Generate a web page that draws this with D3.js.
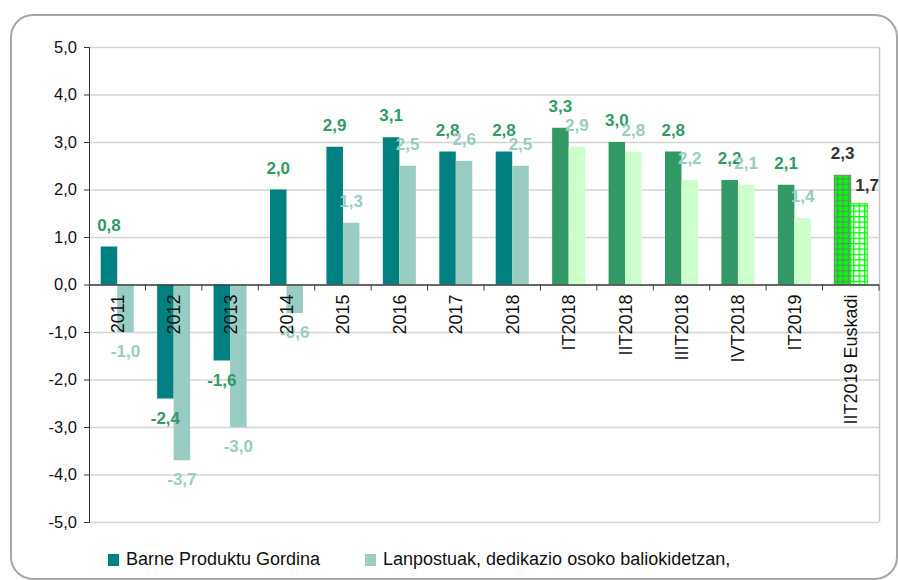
<!DOCTYPE html>
<html>
<head>
<meta charset="utf-8">
<script src="https://cdn.jsdelivr.net/npm/d3@7"></script>
<style>
  body { margin: 0; background: #fff; }
  svg { font-family: Arial, "Liberation Sans", sans-serif; }
  .grid line { stroke: #d4d4d4; }
  .lbl { font-weight: bold; font-size: 17px; text-anchor: middle; }
</style>
</head>
<body>
<svg id="chart" width="898" height="580"></svg>
<script>
var categories = ["2011", "2012", "2013", "2014", "2015", "2016", "2017", "2018",
                  "IT2018", "IIT2018", "IIIT2018", "IVT2018", "IT2019", "IIT2019 Euskadi"];
var periodType = ["year", "year", "year", "year", "year", "year", "year", "year",
                  "quarter", "quarter", "quarter", "quarter", "quarter", "euskadi"];
var gdpValues = [0.8, -2.4, -1.6, 2.0, 2.9, 3.1, 2.8, 2.8, 3.3, 3.0, 2.8, 2.2, 2.1, 2.3];
var jobValues = [-1.0, -3.7, -3.0, -0.6, 1.3, 2.5, 2.6, 2.5, 2.9, 2.8, 2.2, 2.1, 1.4, 1.7];
var yTicks = [-5, -4, -3, -2, -1, 0, 1, 2, 3, 4, 5];
var seriesNames = ["Barne Produktu Gordina", "Lanpostuak, dedikazio osoko baliokidetzan,"];

var svg = d3.select("#chart");

// colours per period type: [gdp bar, job bar]
var fills = {
    year: ["#008080", "#99ccc2"],
    quarter: ["#339966", "#ccffcc"],
    euskadi: ["url(#gridDark)", "url(#gridLight)"]
};
var labelColors = {
    year: ["#339966", "#99ccc2"],
    quarter: ["#339966", "#99ccc2"],
    euskadi: ["#333333", "#333333"]
};

var defs = svg.append("defs");
var p1 = defs.append("pattern").attr("id", "gridDark")
    .attr("width", 5.4).attr("height", 5.4).attr("patternUnits", "userSpaceOnUse");
p1.append("rect").attr("width", 5.4).attr("height", 5.4).attr("fill", "#00ff00");
p1.append("path").attr("d", "M0,0.6H5.4M0.6,0V5.4")
    .attr("stroke", "#5f8f6f").attr("stroke-width", 1.3);
var p2 = defs.append("pattern").attr("id", "gridLight")
    .attr("width", 5.4).attr("height", 5.4).attr("patternUnits", "userSpaceOnUse");
p2.append("rect").attr("width", 5.4).attr("height", 5.4).attr("fill", "#ffffff");
p2.append("path").attr("d", "M0,0.6H5.4M0.6,0V5.4")
    .attr("stroke", "#00ff00").attr("stroke-width", 1.4);

// outer frame
svg.append("rect")
    .attr("x", 11).attr("y", 15).attr("width", 886).attr("height", 564)
    .attr("rx", 22).attr("fill", "none")
    .attr("stroke", "#a6a6a6").attr("stroke-width", 2);

var plotLeft = 89, plotRight = 879, plotTop = 47, plotBottom = 522;

var x = d3.scaleBand().domain(categories).range([plotLeft, plotRight]).padding(0);
var y = d3.scaleLinear().domain([-5, 5]).range([plotBottom, plotTop]);
var barW = 16.5;

var locale = d3.formatLocale({decimal: ",", thousands: ".", grouping: [3],
                              currency: ["", ""], minus: "-"});
var fmt = locale.format(".1f");

// gridlines
svg.append("g").attr("class", "grid")
    .selectAll("line").data(yTicks).enter().append("line")
    .attr("x1", plotLeft).attr("x2", plotRight)
    .attr("y1", function(d) { return y(d) + 0.5; })
    .attr("y2", function(d) { return y(d) + 0.5; })
    .attr("stroke-width", 1.5);
svg.append("line")
    .attr("x1", plotRight + 0.5).attr("x2", plotRight + 0.5)
    .attr("y1", plotTop).attr("y2", plotBottom)
    .attr("stroke", "#c8c8c8").attr("stroke-width", 1.5);

// y axis
var yAxis = svg.append("g")
    .attr("transform", "translate(" + plotLeft + ",0)")
    .call(d3.axisLeft(y).tickValues(yTicks).tickSize(5).tickPadding(7)
          .tickFormat(fmt));
yAxis.select(".domain").attr("stroke", "#333");
yAxis.selectAll(".tick line").attr("stroke", "#333");
yAxis.selectAll("text").attr("font-size", 16.5).attr("fill", "#111")
    .attr("font-family", "Arial, 'Liberation Sans', sans-serif");

var data = categories.map(function(c, i) {
    return {cat: c, type: periodType[i], gdp: gdpValues[i], job: jobValues[i]};
});

var group = svg.append("g").selectAll("g")
    .data(data).enter().append("g");

// gdp bars
group.append("rect")
    .attr("x", function(d) { return x(d.cat) + x.bandwidth() / 2 - barW; })
    .attr("width", barW)
    .attr("y", function(d) { return y(Math.max(0, d.gdp)); })
    .attr("height", function(d) { return Math.abs(y(d.gdp) - y(0)); })
    .attr("fill", function(d) { return fills[d.type][0]; })
    .attr("stroke", function(d) { return d.type == "euskadi" ? "#5f8f6f" : "none"; });

// job bars
group.append("rect")
    .attr("x", function(d) { return x(d.cat) + x.bandwidth() / 2; })
    .attr("width", barW)
    .attr("y", function(d) { return y(Math.max(0, d.job)); })
    .attr("height", function(d) { return Math.abs(y(d.job) - y(0)); })
    .attr("fill", function(d) { return fills[d.type][1]; })
    .attr("stroke", function(d) { return d.type == "euskadi" ? "#00ff00" : "none"; });

// zero line with category ticks
svg.append("line")
    .attr("x1", plotLeft).attr("x2", plotRight)
    .attr("y1", y(0) + 0.5).attr("y2", y(0) + 0.5)
    .attr("stroke", "#404040").attr("stroke-width", 1.5);
svg.append("g").selectAll("line")
    .data(categories.slice(1).concat(["end"])).enter().append("line")
    .attr("x1", function(d) { return d == "end" ? plotRight : x(d); })
    .attr("x2", function(d) { return d == "end" ? plotRight : x(d); })
    .attr("y1", y(0)).attr("y2", y(0) + 6)
    .attr("stroke", "#404040");

// value labels
function labelY(v) {
    return v >= 0 ? y(v) - 16 : y(v) + 25;
}
group.append("text").attr("class", "lbl")
    .attr("x", function(d) { return x(d.cat) + x.bandwidth() / 2 - barW / 2; })
    .attr("y", function(d) { return labelY(d.gdp); })
    .attr("fill", function(d) { return labelColors[d.type][0]; })
    .text(function(d) { return fmt(d.gdp); });
group.append("text").attr("class", "lbl")
    .attr("x", function(d) {
        return x(d.cat) + x.bandwidth() / 2 + barW / 2 + (d.type == "euskadi" ? 8 : 0); })
    .attr("y", function(d) { return d.type == "euskadi" ? y(d.job) - 13 : labelY(d.job); })
    .attr("fill", function(d) { return labelColors[d.type][1]; })
    .text(function(d) { return fmt(d.job); });

// category labels (rotated)
svg.append("g").selectAll("text")
    .data(categories).enter().append("text")
    .attr("transform", function(d) {
        return "translate(" + (x(d) + x.bandwidth() / 2) + "," + (y(0) + 10) + ") rotate(-90)"; })
    .attr("dy", "0.36em")
    .attr("text-anchor", "end")
    .attr("font-size", 18)
    .attr("fill", "#111")
    .text(function(d) { return d; });

// legend
var legendX = [108, 365];
var legendColors = ["#008080", "#99ccc2"];
var legend = svg.append("g").selectAll("g")
    .data(seriesNames).enter().append("g")
    .attr("transform", function(d, i) { return "translate(" + legendX[i] + ",554)"; });
legend.append("rect").attr("width", 11).attr("height", 12)
    .attr("fill", function(d, i) { return legendColors[i]; });
legend.append("text").attr("x", 18).attr("y", 11)
    .attr("font-size", 18).attr("fill", "#111")
    .text(function(d) { return d; });
</script>
</body>
</html>
